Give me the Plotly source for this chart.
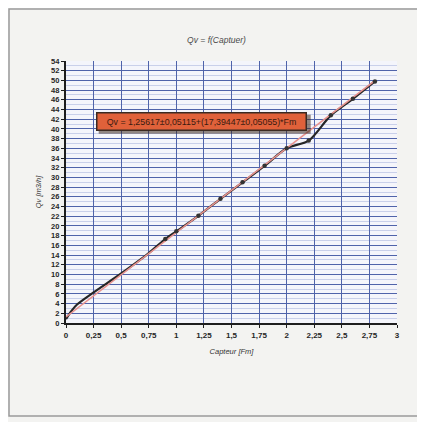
import plotly.graph_objects as go

# ---- data ----
capteur = [0.0, 0.05, 0.1, 0.25, 0.5, 0.75, 0.8, 0.9, 1.0, 1.2, 1.4, 1.6, 1.8, 2.0, 2.2, 2.4, 2.6, 2.8]
qv = [0.8, 2.5, 3.8, 6.3, 10.2, 14.4, 15.4, 17.3, 18.9, 22.1, 25.6, 29.0, 32.4, 36.0, 37.6, 42.8, 46.2, 49.8]
fit_a = 1.25617
fit_b = 17.39447
fit_x = [0.0, 2.8]
x_ticks = [0, 0.25, 0.5, 0.75, 1, 1.25, 1.5, 1.75, 2, 2.25, 2.5, 2.75, 3]
x_ticktext = ["0", "0,25", "0,5", "0,75", "1", "1,25", "1,5", "1,75", "2", "2,25", "2,5", "2,75", "3"]
y_ticks = list(range(0, 56, 2))
equation = "Qv = 1,25617±0,05115+(17,39447±0,05055)*Fm"
title_text = "Qv = f(Captuer)"
x_title = "Capteur [Fm]"
y_title = "Qv [m3/h]"

fit_y = [fit_a + fit_b * x for x in fit_x]

# page has an 8px body margin, so the figure is sized to fit inside the window
W, H = 417, 414
ML, MR, MT, MB = 58, 28, 53, 99

fig = go.Figure()
fig.add_trace(go.Scatter(x=capteur, y=qv, mode="lines",
                         line=dict(color="#262626", width=2.2, shape="spline", smoothing=0.8),
                         hoverinfo="skip", showlegend=False))
fig.add_trace(go.Scatter(x=fit_x, y=fit_y, mode="lines",
                         line=dict(color="#e8928e", width=1.6),
                         showlegend=False))
fig.add_trace(go.Scatter(x=capteur[7:], y=qv[7:], mode="markers",
                         marker=dict(color="#333333", size=4.5),
                         showlegend=False))

pw = W - ML - MR
ph = H - MT - MB
def px2paper_x(p):
    return (p - ML) / pw
def px2paper_y(p):
    return (H - MB - p) / ph

# panel frame
fig.add_shape(type="rect", xref="paper", yref="paper",
              x0=px2paper_x(1), x1=px2paper_x(412), y0=px2paper_y(408), y1=px2paper_y(1),
              line=dict(color="#9a9a9a", width=1.5), fillcolor="rgba(0,0,0,0)", layer="below")

# equation box with shadow
ann_x, ann_y = 1.23, 41.6
sx = 3.0 / pw  # data units per pixel x
sy = 54.0 / ph
fig.add_shape(type="rect", xref="x", yref="y",
              x0=ann_x - 106 * sx + 3 * sx, x1=ann_x + 106 * sx + 3 * sx,
              y0=ann_y - 9.5 * sy - 3 * sy, y1=ann_y + 9.5 * sy - 3 * sy,
              line=dict(width=0), fillcolor="rgba(60,40,30,0.55)", layer="above")
fig.add_annotation(x=ann_x, y=ann_y, xref="x", yref="y", text=equation, showarrow=False,
                   font=dict(family="Liberation Sans, Arial", size=8.8, color="#3a1a10"),
                   bgcolor="#e0613a", bordercolor="#3b2a22", borderwidth=1.5,
                   width=206, height=14, borderpad=1)

fig.update_layout(
    width=W, height=H,
    margin=dict(l=ML, r=MR, t=MT, b=MB),
    paper_bgcolor="#f3f3f1",
    plot_bgcolor="#f4f5fb",
    title=dict(text=title_text, x=0.5, xanchor="center", y=1 - 32 / H, yanchor="middle",
               font=dict(family="Liberation Sans, Arial", size=8.5, color="#4a4a4a", style="italic")),
    xaxis=dict(range=[0, 3], tickvals=x_ticks, ticktext=x_ticktext,
               showgrid=True, gridcolor="#4f63aa", gridwidth=1.2,
               zeroline=False, showline=True, linecolor="#1e1e1e", linewidth=2.2,
               ticks="outside", ticklen=3, tickcolor="#1e1e1e",
               tickfont=dict(family="Liberation Sans, Arial", size=8, color="#262626", weight="bold"),
               title=dict(text=x_title, standoff=10,
                          font=dict(family="Liberation Sans, Arial", size=7.5, color="#333333", style="italic"))),
    yaxis=dict(range=[0, 54], tickvals=y_ticks,
               showgrid=True, gridcolor="#4f63aa", gridwidth=1.2,
               minor=dict(dtick=1, showgrid=True, gridcolor="#c9d0ea", gridwidth=0.8),
               zeroline=False, showline=True, linecolor="#1e1e1e", linewidth=2.2,
               ticks="outside", ticklen=3, tickcolor="#1e1e1e",
               tickfont=dict(family="Liberation Sans, Arial", size=7.5, color="#262626", weight="bold"),
               title=dict(text=y_title, standoff=8,
                          font=dict(family="Liberation Sans, Arial", size=7.5, color="#333333", style="italic"))),
)

fig.write_html("out.html")
